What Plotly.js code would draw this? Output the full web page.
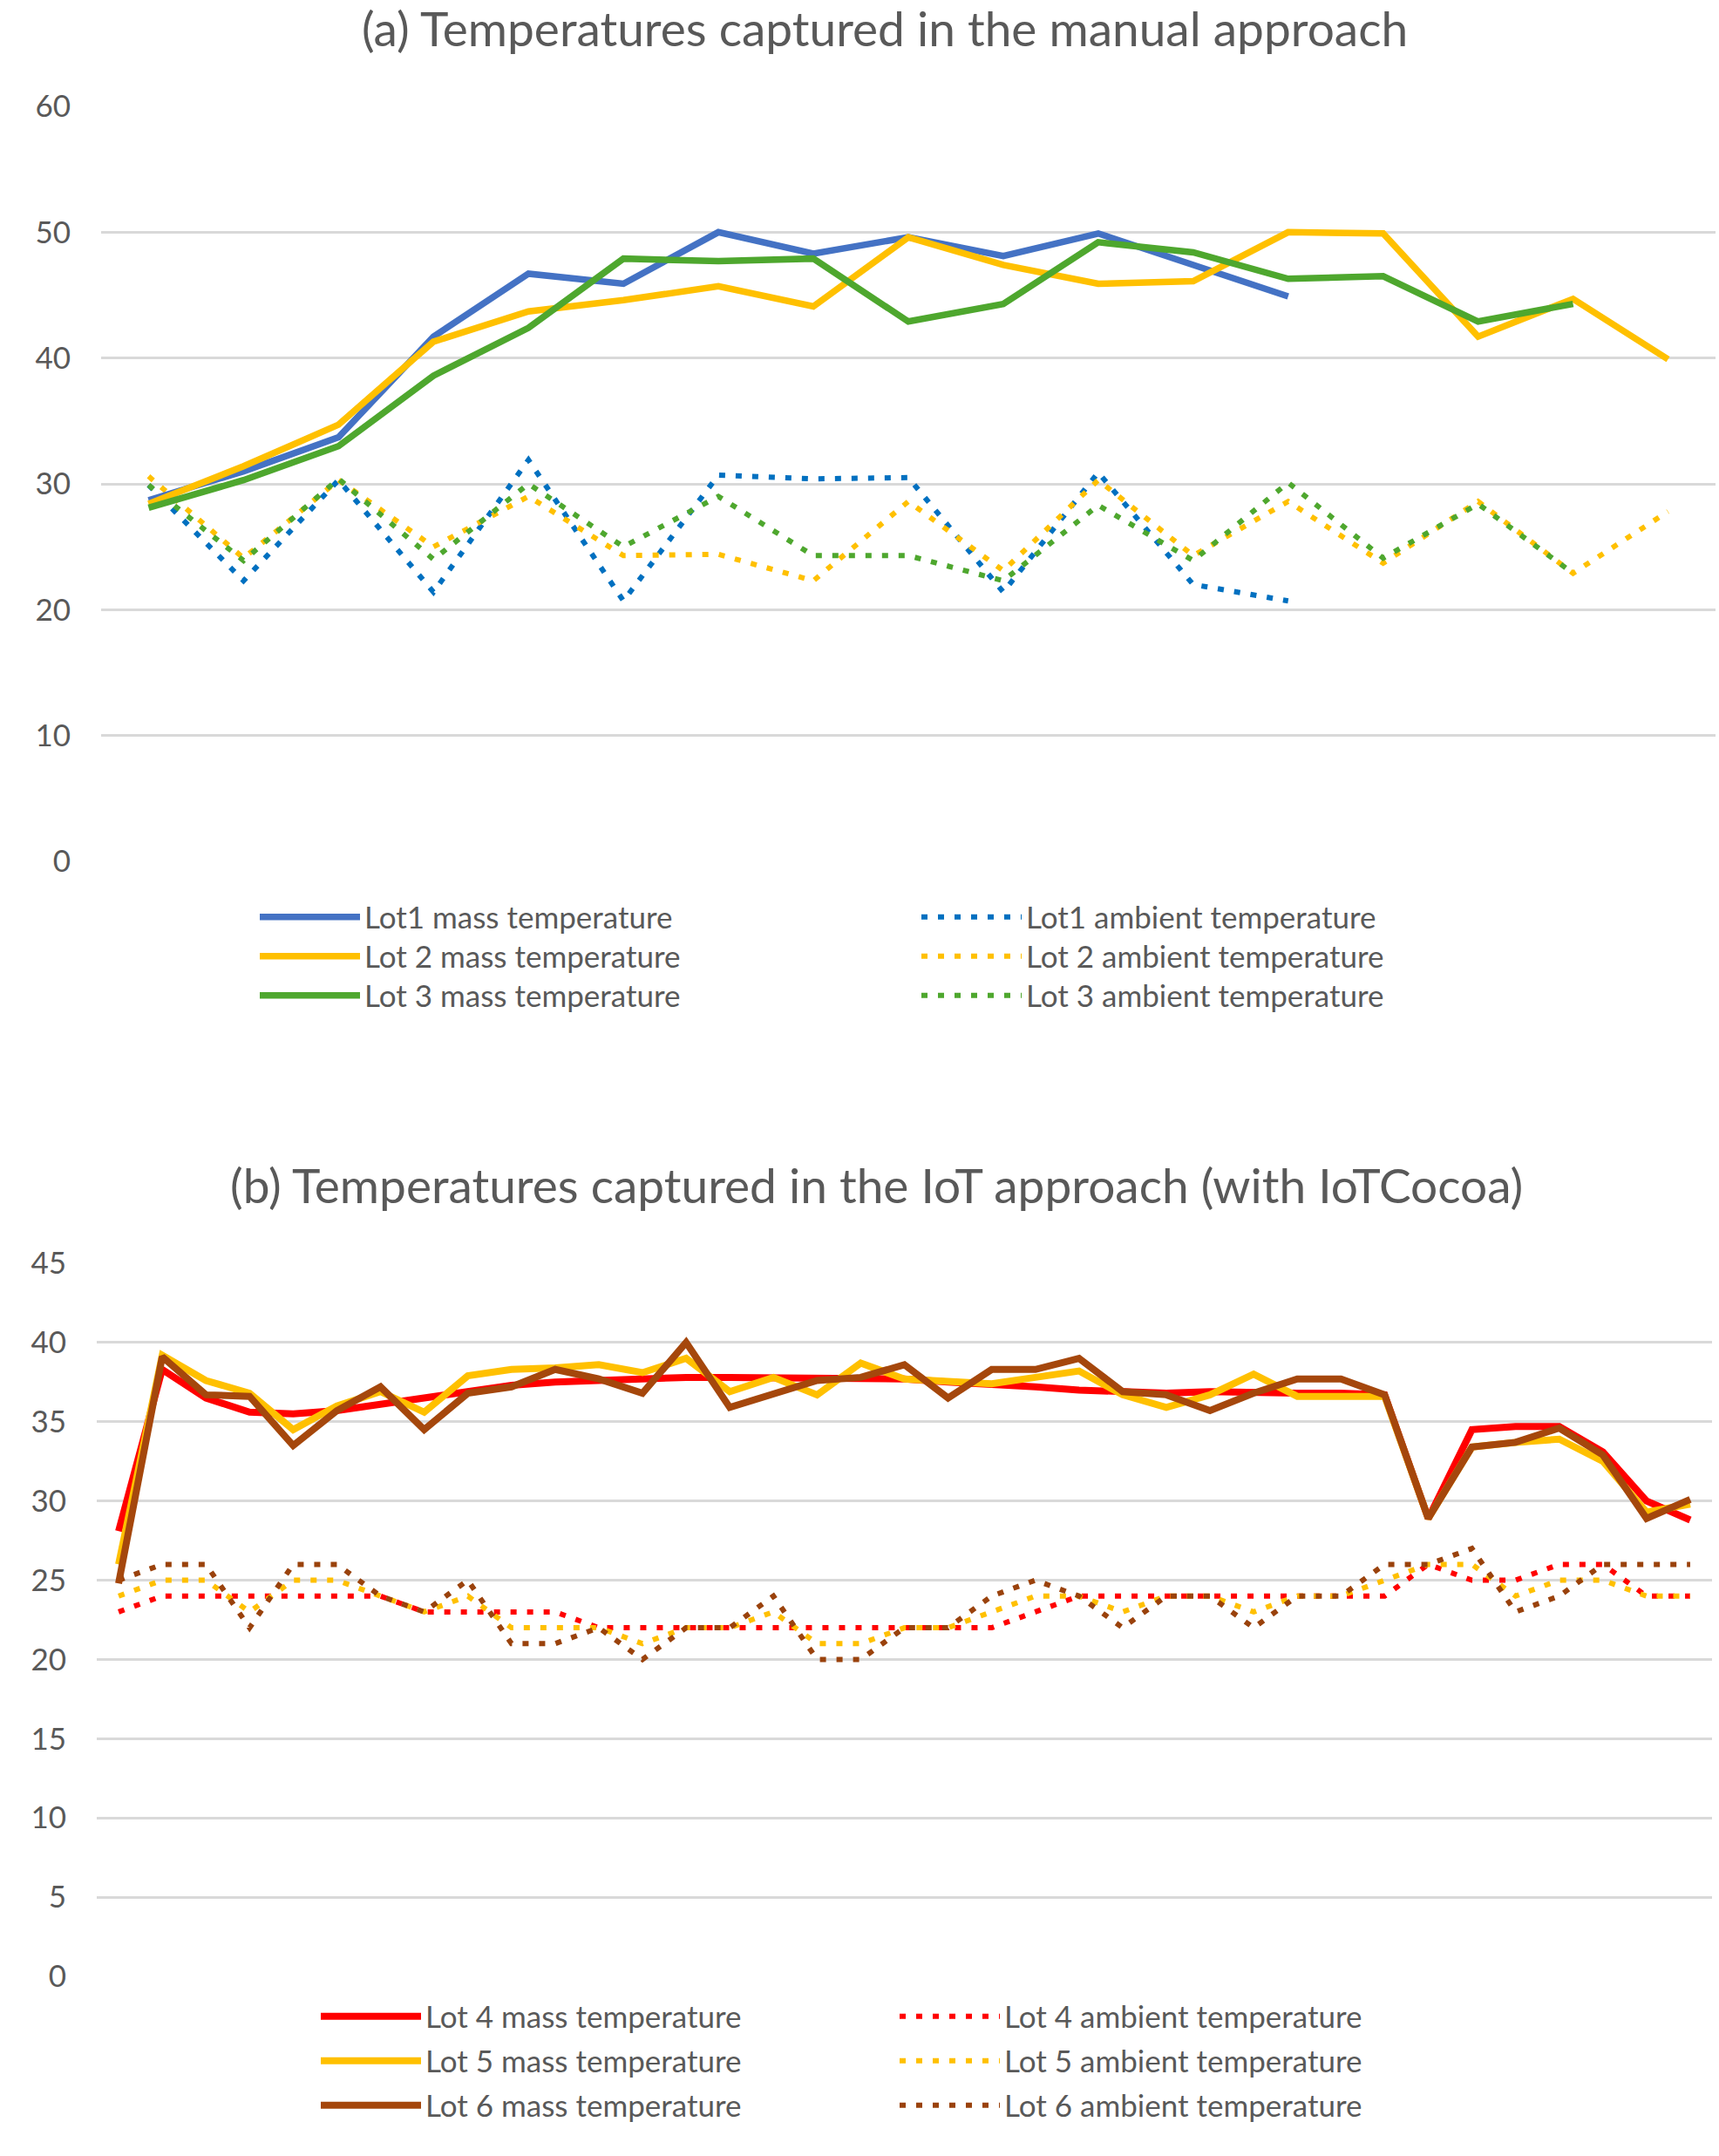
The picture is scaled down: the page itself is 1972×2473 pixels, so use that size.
<!DOCTYPE html>
<html>
<head>
<meta charset="utf-8">
<script src="https://cdn.plot.ly/plotly-3.0.1.min.js"></script>
<style>html,body{margin:0;padding:0;background:#fff;}#chart{width:1972px;height:2473px;}</style>
</head>
<body>
<div id="chart"></div>
<script>
// ---------- Panel (a): manual approach ----------
const titleA = '(a) Temperatures captured in the manual approach';
const lot1Mass    = [28.7, 31.0, 33.7, 41.7, 46.7, 45.9, 50.0, 48.3, 49.6, 48.1, 49.9, 47.4, 44.9];
const lot2Mass    = [28.4, 31.4, 34.7, 41.3, 43.7, 44.6, 45.7, 44.1, 49.6, 47.4, 45.9, 46.1, 50.0, 49.9, 41.7, 44.7, 39.9];
const lot3Mass    = [28.1, 30.3, 33.0, 38.6, 42.4, 47.9, 47.7, 47.9, 42.9, 44.3, 49.2, 48.4, 46.3, 46.5, 42.9, 44.3];
const lot1Ambient = [29.9, 22.3, 30.3, 21.4, 31.9, 20.7, 30.7, 30.4, 30.5, 21.4, 30.9, 22.0, 20.7];
const lot2Ambient = [30.6, 24.1, 30.3, 25.0, 29.0, 24.3, 24.4, 22.3, 28.6, 23.1, 30.3, 24.3, 28.6, 23.7, 28.6, 22.9, 27.8];
const lot3Ambient = [29.9, 23.9, 30.4, 24.0, 30.0, 25.0, 29.0, 24.3, 24.3, 22.3, 28.3, 23.9, 30.1, 24.1, 28.4, 22.9];
const namesA = ['Lot1 mass temperature', 'Lot 2 mass temperature', 'Lot 3 mass temperature',
                'Lot1 ambient temperature', 'Lot 2 ambient temperature', 'Lot 3 ambient temperature'];
const nCatA = 17;

// ---------- Panel (b): IoT approach ----------
const titleB = '(b) Temperatures captured in the IoT approach (with IoTCocoa)';
const lot4Mass = [28.1, 38.3, 36.5, 35.6, 35.5, 35.7, 36.1, 36.5, 37.0, 37.3, 37.5, 37.6, 37.8, 37.8, 37.8, 37.8, 37.8, 37.8, 37.7,
                  37.5, 37.4, 37.2, 37.0, 36.9, 36.8, 36.9, 36.8, 36.8, 36.8, 36.7, 28.9, 34.5, 34.7, 34.7, 33.1, 30.0, 28.8];
const lot5Mass = [26.0, 39.2, 37.6, 36.8, 34.5, 36.0, 36.9, 35.6, 37.9, 38.3, 38.4, 38.6, 38.1, 39.0, 36.9, 37.8, 36.7, 38.7, 37.7,
                  37.6, 37.4, 37.8, 38.2, 36.7, 35.9, 36.7, 38.0, 36.6, 36.6, 36.6, 28.9, 33.4, 33.7, 33.9, 32.5, 29.3, 29.8];
const lot6Mass = [24.8, 39.1, 36.7, 36.6, 33.5, 35.7, 37.2, 34.5, 36.8, 37.2, 38.3, 37.7, 36.8, 40.0, 35.9, 36.7, 37.6, 37.8, 38.6,
                  36.5, 38.3, 38.3, 39.0, 36.9, 36.7, 35.7, 36.8, 37.7, 37.7, 36.7, 28.9, 33.4, 33.7, 34.6, 32.9, 28.9, 30.1];
const lot4Ambient = [23, 24, 24, 24, 24, 24, 24, 23, 23, 23, 23, 22, 22, 22, 22, 22, 22, 22, 22,
                     22, 22, 23, 24, 24, 24, 24, 24, 24, 24, 24, 26, 25, 25, 26, 26, 24, 24];
const lot5Ambient = [24, 25, 25, 23, 25, 25, 24, 23, 24, 22, 22, 22, 21, 22, 22, 23, 21, 21, 22,
                     22, 23, 24, 24, 23, 24, 24, 23, 24, 24, 25, 26, 26, 24, 25, 25, 24, 24];
const lot6Ambient = [25, 26, 26, 22, 26, 26, 24, 23, 25, 21, 21, 22, 20, 22, 22, 24, 20, 20, 22,
                     22, 24, 25, 24, 22, 24, 24, 22, 24, 24, 26, 26, 27, 23, 24, 26, 26, 26];
const namesB = ['Lot 4 mass temperature', 'Lot 5 mass temperature', 'Lot 6 mass temperature',
                'Lot 4 ambient temperature', 'Lot 5 ambient temperature', 'Lot 6 ambient temperature'];
const nCatB = 37;

// ---------- styling ----------
const W = 1972, H = 2473;
const colorsA = ['#4472C4', '#FFC000', '#4EA72E', '#0070C0', '#FFC000', '#4EA72E'];
const colorsB = ['#FF0000', '#FFC000', '#A5470C', '#FF0000', '#FFC000', '#9A420C'];
const DOT = '7px,12px';
const idx = arr => arr.map((_, i) => i);
const px = v => v / W;
const py = v => 1 - v / H;

const seriesA = [lot1Mass, lot2Mass, lot3Mass, lot1Ambient, lot2Ambient, lot3Ambient];
const seriesB = [lot4Mass, lot5Mass, lot6Mass, lot4Ambient, lot5Ambient, lot6Ambient];

// legend slots: [sampleLeftPx, rowCenterPx]
const legPosA = [[299, 1052], [299, 1097], [299, 1142], [1058, 1052], [1058, 1097], [1058, 1142]];
const legPosB = [[369, 2313], [369, 2364], [369, 2415], [1033, 2313], [1033, 2364], [1033, 2415]];

const traces = [];
const legends = {};
let legCount = 0;
function addSeries(series, names, colors, positions, xa, ya, massWidth) {
  // draw order: ambient first, then mass on top
  const order = [3, 4, 5, 0, 1, 2];
  order.forEach(i => {
    legCount += 1;
    const key = legCount === 1 ? 'legend' : 'legend' + legCount;
    const mass = i < 3;
    traces.push({
      type: 'scatter', mode: 'lines',
      x: idx(series[i]), y: series[i],
      name: names[i], xaxis: xa, yaxis: ya,
      legend: key,
      line: {color: colors[i], width: mass ? massWidth : 6, dash: mass ? 'solid' : DOT},
      hoverinfo: 'skip'
    });
    legends[key] = {
      x: px(positions[i][0] - 6), y: py(positions[i][1]),
      xanchor: 'left', yanchor: 'middle', orientation: 'v',
      itemwidth: 115, bgcolor: 'rgba(0,0,0,0)', borderwidth: 0,
      font: {family: 'Lato, sans-serif', size: 35, color: '#595959'}
    };
  });
}
addSeries(seriesA, namesA, colorsA, legPosA, 'x', 'y', 7.5);
addSeries(seriesB, namesB, colorsB, legPosB, 'x2', 'y2', 8);

const yCommon = {
  gridcolor: '#d9d9d9', gridwidth: 3, zeroline: false, showline: false, ticks: '',
  tickfont: {family: 'Lato, sans-serif', size: 35, color: '#595959'}, ticklabelstandoff: 34, fixedrange: true
};
const xCommon = {showgrid: false, zeroline: false, showline: false, showticklabels: false, ticks: '', fixedrange: true};

const layout = Object.assign({
  width: W, height: H,
  margin: {l: 0, r: 0, t: 0, b: 0},
  paper_bgcolor: '#ffffff', plot_bgcolor: '#ffffff',
  font: {family: 'Lato, sans-serif', color: '#595959'},
  showlegend: true,
  title: {text: titleA, font: {family: 'Lato, sans-serif', size: 55, color: '#595959'},
          x: px(1015), xanchor: 'center', y: py(34), yanchor: 'middle'},
  xaxis: Object.assign({domain: [px(116), px(1968)], range: [-0.5, nCatA - 0.5], anchor: 'y'}, xCommon),
  yaxis: Object.assign({domain: [py(988), py(122)], range: [0, 60], dtick: 10, tick0: 0, anchor: 'x'}, yCommon),
  xaxis2: Object.assign({domain: [px(111), px(1964)], range: [-0.5, nCatB - 0.5], anchor: 'y2'}, xCommon),
  yaxis2: Object.assign({domain: [py(2267), py(1449)], range: [0, 45], dtick: 5, tick0: 0, anchor: 'x2'}, yCommon),
  annotations: [{
    text: titleB, xref: 'paper', yref: 'paper', x: px(1005), y: py(1359),
    xanchor: 'center', yanchor: 'middle', showarrow: false,
    font: {family: 'Lato, sans-serif', size: 55, color: '#595959'}
  }]
}, legends);

Plotly.newPlot('chart', traces, layout, {staticPlot: true, displayModeBar: false});
</script>
</body>
</html>
